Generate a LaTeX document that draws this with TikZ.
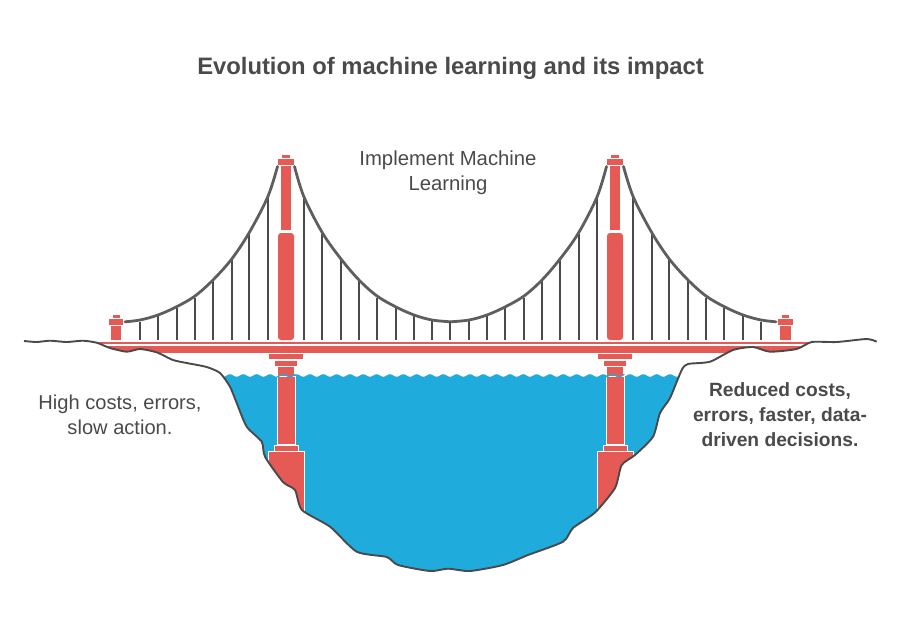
\documentclass[tikz,border=0pt]{standalone}
\usepackage{fontspec}
\setmainfont{Liberation Sans}
\definecolor{redc}{HTML}{E65A55}
\definecolor{bluec}{HTML}{1FABDC}
\definecolor{inkc}{HTML}{4A4A4A}
\definecolor{cablec}{HTML}{5E5E5E}
\tikzset{
 redpart/.style={fill=redc,draw=none},
 redout/.style={fill=redc,draw=white,line width=1pt},
 hanger/.style={draw=inkc,line width=1.6pt},
 cable/.style={draw=cablec,line width=2.8pt,line cap=round},
 terrain/.style={draw=inkc,line width=1.9pt,line join=round},
 lbl/.style={text=inkc,align=center,inner sep=0pt}
}
\newcommand{\mytower}{%
 \fill[redpart] (282,155) rectangle (290,158);
 \fill[redpart] (278,159) rectangle (294,164.5);
 \fill[redpart] (281,166) rectangle (291,230);
 \fill[redpart,rounded corners=3pt] (278,340) -- (278,233) -- (294,233) -- (294,340) -- cycle;
 \fill[redpart] (269,354) rectangle (303,359);
 \fill[redpart] (275,361) rectangle (297,365.5);
 \fill[redpart] (278,367) rectangle (294,377);
 \draw[redout] (277,376) rectangle (295.5,444.5);
 \draw[redout] (274,445.5) rectangle (298,451);
 \draw[redout] (268,451.5) rectangle (304,530);
 \draw[bluec,line width=1.3pt] plot[domain=277:295.5,samples=30] (\x,{375.5-1.3*cos(27*(\x-230))});
}
\newcommand{\myhalf}{%
 \fill[redpart] (112.5,315) rectangle (119.5,318);
 \fill[redpart] (108.5,319) rectangle (123,324.5);
 \fill[redpart] (110.5,326) rectangle (121,340);
 \foreach \hx/\hy in {140/322,158/316,177/308,195/297.5,213/281,232/260,249/234,268/198,
   304/198,322/234,341/260,359/281,377/297.5,396/308,414/316,432/321}
   {\draw[hanger] (\hx,\hy) -- (\hx,340);}
 \draw[cable] plot[smooth,tension=.55] coordinates {(125,321.8) (140,320) (158,315) (176.7,306.7) (195,296) (213,280) (231.7,259) (249,233) (267.7,197) (277.5,166.5)};
 \draw[cable] plot[smooth,tension=.55] coordinates {(294.5,166.5) (304,197) (322.5,233) (341,259) (359,280) (377,296) (395.5,306.7) (414,315) (432,320) (450.5,321.8)};
}
\newcommand{\landpath}{plot[smooth,tension=.4] coordinates {(24,341) (36.7,342) (50,340.7) (66.7,342) (83,340.7) (96.7,342.7) (110,348) (126.7,351.7) (140,349) (156.7,352.3) (173,360) (186.7,363) (206.7,367) (220,373) (230,386.7) (236.7,403) (246.7,426.7) (261.7,441.7) (265,456.7) (283,482) (295,490) (302,510) (330,526.7) (356.7,551.7) (386.7,557) (398,565) (430,571) (448,568.7) (470,571) (503,565) (528,555) (563,541.7) (573,528) (595,512.5) (615,488) (621.7,465) (635,455) (653,436.7) (660,413) (670,398) (681.7,370) (688,364) (710,361.7) (733,350) (753,347) (770,351.7) (796.7,349) (811.7,342) (836.7,342) (866.7,339) (876.7,341.7)}}
\begin{document}
\begin{tikzpicture}[x=1pt,y=-1pt]
\useasboundingbox (0,0) rectangle (901,621);
% water
\fill[bluec] plot[domain=215:690,samples=300] (\x,{375.5-1.3*cos(27*(\x-230))}) -- (690,590) -- (215,590) -- cycle;
% towers
\mytower
\begin{scope}[xshift=329pt]\mytower\end{scope}
% deck
\fill[redpart] (97,342) rectangle (808,344);
\fill[redpart] (97,346) rectangle (808,352.5);
% cables, hangers, end towers
\myhalf
\begin{scope}[shift={(901,0)},xscale=-1]\myhalf\end{scope}
\draw[hanger] (450,322) -- (450,340);
% land
\fill[white] \landpath -- (901,342) -- (901,621) -- (0,621) -- (0,341) -- cycle;
\draw[terrain] \landpath;
% labels
\node[lbl,font=\bfseries\fontsize{23.8}{28}\selectfont] (title) at (450.5,68) {Evolution of machine learning and its impact};
\node[lbl,font=\fontsize{20.3}{24.7}\selectfont] (top) at (448,172.5) {Implement Machine\\Learning};
\node[lbl,font=\fontsize{20.1}{24.7}\selectfont] (left) at (120,414.5) {High costs, errors,\\slow action.};
\node[lbl,font=\bfseries\fontsize{19.2}{24.7}\selectfont] (right) at (780,414.5) {Reduced costs,\\errors, faster, data-\\driven decisions.};
\end{tikzpicture}
\end{document}
